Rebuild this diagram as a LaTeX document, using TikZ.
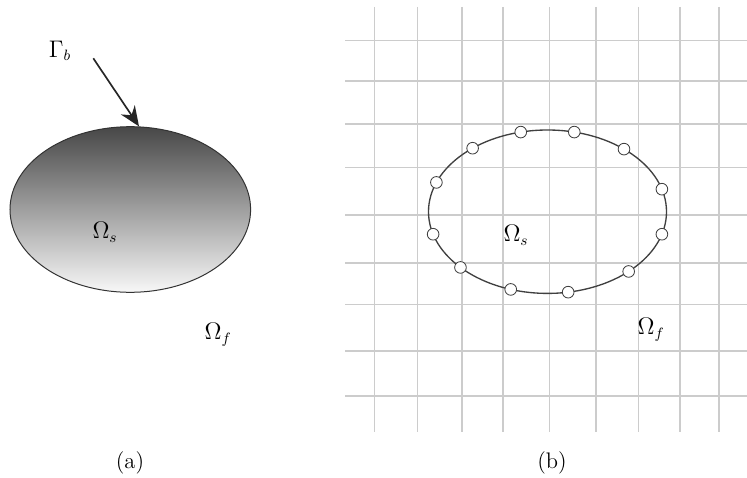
\documentclass[tikz,border=0pt]{standalone}
\usetikzlibrary{shapes.geometric,arrows.meta}
\begin{document}
\begin{tikzpicture}[x=0.6pt,y=-0.6pt,
  gridline/.style={draw=black!20,line width=0.9pt},
  marker/.style={circle,draw=black!75,fill=white,line width=0.5pt,inner sep=0pt,minimum size=7pt},
  lbl/.style={inner sep=0pt,font=\fontsize{13.5}{16}\selectfont},
  pointer/.style={-{Stealth[length=12pt,width=10pt]},line width=1pt,draw=black!85}]
\useasboundingbox (0,0) rectangle (747,478);
% ---- panel (a)
\node[ellipse,draw=black!80,line width=0.6pt,minimum width=240.6*0.6pt,minimum height=165.6*0.6pt,
      inner sep=0pt,shading=axis,top color=black!72,bottom color=black!3] (solid) at (130.3,209.5) {};
\node[lbl] (gb) at (60,51) {$\Gamma_b$};
\coordinate (tail) at (93.3,58.3);
\draw[pointer] (tail) -- (solid.84);
\node[lbl] (osa) at (105,232) {$\Omega_s$};
\node[lbl] (ofa) at (218,335) {$\Omega_f$};
\node[lbl] (capa) at (130,463) {(a)};
% ---- panel (b)
\foreach \x [count=\i] in {374.3,417.3,462,503,549.3,596,638.7,680,719}{
  \coordinate (vt\i) at (\x,7); \coordinate (vb\i) at (\x,432);
  \draw[gridline] (vt\i) -- (vb\i);}
\foreach \y [count=\i] in {40.7,81,124,167.7,215,263,304.3,351,396}{
  \coordinate (hl\i) at (345,\y); \coordinate (hr\i) at (747,\y);
  \draw[gridline] (hl\i) -- (hr\i);}
\node[ellipse,draw=black!75,line width=0.8pt,minimum width=238*0.6pt,minimum height=163.4*0.6pt,
      inner sep=0pt] (body) at (547.5,211.7) {};
\foreach \t [count=\i] in {103,77,50,16,-16,-47,-80,-108,-137,-164,159,129}{
  \node[marker] (m\i) at ({547.5+119*cos(\t)},{211.7-81.7*sin(\t)}) {};}
\node[lbl] (osb) at (516,235) {$\Omega_s$};
\node[lbl] (ofb) at (651,330) {$\Omega_f$};
\node[lbl] (capb) at (552,463) {(b)};
\end{tikzpicture}
\end{document}
